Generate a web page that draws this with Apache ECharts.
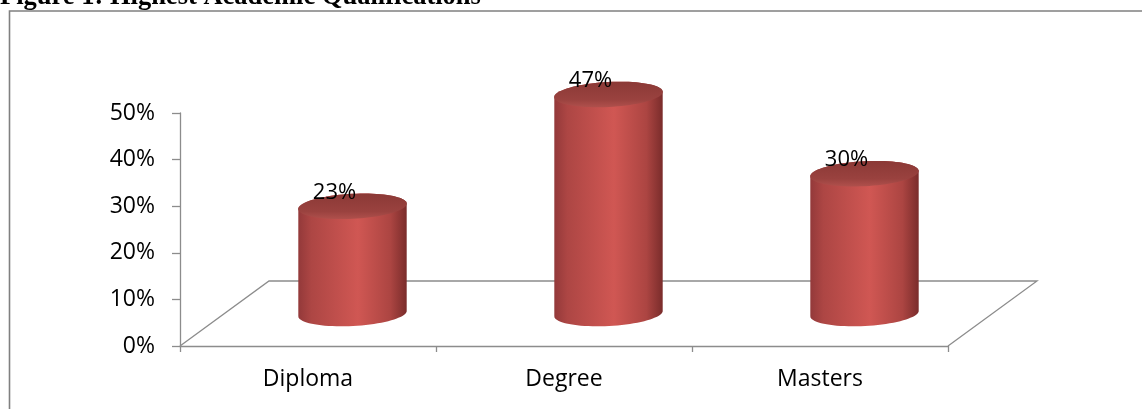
<!DOCTYPE html>
<html>
<head>
<meta charset="utf-8">
<script src="https://cdn.jsdelivr.net/npm/echarts@6/dist/echarts.min.js"></script>
<style>
html,body{margin:0;padding:0;background:#fff;}
#chart{width:1142px;height:409px;}
</style>
</head>
<body>
<div id="chart"></div>
<script>
const titleText = 'Figure 1: Highest Academic Qualifications';
const categories = ['Diploma', 'Degree', 'Masters'];
const values = [23, 47, 30];
const yTicks = [0, 10, 20, 30, 40, 50];

const DX = 89, DY = 65;       // 3D floor depth (style)
const TH = -3 * Math.PI / 180; // ellipse tilt
const LINE = '#8c8c8c';
const FONT = '"Open Sans", "Noto Sans", sans-serif';

function ell(cx, cy, rx, ry, t) {
  const c = Math.cos(TH), s = Math.sin(TH);
  const ex = rx * Math.cos(t), ey = ry * Math.sin(t);
  return [cx + ex * c - ey * s, cy + ex * s + ey * c];
}

const chart = echarts.init(document.getElementById('chart'));
chart.setOption({
  backgroundColor: '#fff',
  animation: false,
  graphic: [
    { type: 'rect', shape: { x: 9.5, y: 11, width: 1300, height: 600 },
      style: { fill: 'none', stroke: '#808080', lineWidth: 1.6 }, z: 0 },
    { type: 'text', x: 0, y: 11,
      style: { text: titleText, font: 'bold 26.5px "Liberation Serif", serif',
               fill: '#000', align: 'left', verticalAlign: 'bottom' }, z: 10 }
  ],
  grid: { left: 180, right: 194, top: 113, bottom: 63 },
  xAxis: {
    type: 'category', data: categories,
    axisLine: { show: true, lineStyle: { color: LINE, width: 1.3 } },
    axisTick: { show: true, length: 6, lineStyle: { color: LINE, width: 1.3 } },
    axisLabel: { color: '#000', fontSize: 23, fontFamily: FONT, margin: 22 },
    splitLine: { show: false }
  },
  yAxis: {
    type: 'value', min: yTicks[0], max: yTicks[yTicks.length - 1], interval: 10,
    axisLine: { show: true, lineStyle: { color: LINE, width: 1.3 } },
    axisTick: { show: true, length: 8, lineStyle: { color: LINE, width: 1.3 } },
    axisLabel: { color: '#000', fontSize: 23, fontFamily: FONT, margin: 25,
                 formatter: v => v + '%' },
    splitLine: { show: false }
  },
  series: [
    {
      type: 'custom', z: 1, silent: true, clip: false,
      data: [[0, 0]],
      renderItem: function (params, api) {
        const cs = params.coordSys;
        const x0 = cs.x, yb = cs.y + cs.height, w = cs.width;
        return {
          type: 'polyline',
          shape: { points: [[x0, yb], [x0 + DX, yb - DY], [x0 + w + DX, yb - DY], [x0 + w, yb]] },
          style: { stroke: LINE, lineWidth: 1.3, fill: 'none' }
        };
      }
    },
    {
      type: 'custom', z: 2, silent: true, clip: false,
      data: categories.map((c, i) => [i, values[i]]),
      renderItem: function (params, api) {
        const idx = api.value(0), v = api.value(1);
        const base = api.coord([idx, 0]);
        const top = api.coord([idx, v]);
        const bandW = api.size([1, 0])[0];
        const rx = bandW * 0.212, ry = 12.5;
        const cx = base[0] + DX / 2;
        const by = base[1] - DY / 2;
        const ty = top[1] - DY / 2;
        const body = [];
        const N = 40;
        for (let k = 0; k <= N; k++) body.push(ell(cx, by, rx, ry, Math.PI - Math.PI * k / N));
        for (let k = 0; k <= N; k++) body.push(ell(cx, ty, rx, ry, -Math.PI * k / N));
        const cap = [];
        for (let k = 0; k < 80; k++) cap.push(ell(cx, ty, rx, ry, 2 * Math.PI * k / 80));
        return {
          type: 'group',
          children: [
            { type: 'polygon', shape: { points: body },
              style: { fill: new echarts.graphic.LinearGradient(0, 0, 1, 0, [
                { offset: 0, color: '#93393a' },
                { offset: 0.12, color: '#ad4644' },
                { offset: 0.55, color: '#d05753' },
                { offset: 0.85, color: '#ac4542' },
                { offset: 1, color: '#7a2c2b' }
              ]) } },
            { type: 'polygon', shape: { points: cap },
              style: { fill: new echarts.graphic.LinearGradient(0, 0, 0, 1, [
                { offset: 0, color: '#8b3936' },
                { offset: 0.7, color: '#9a423f' },
                { offset: 1, color: '#b0504c' }
              ]) } },
            { type: 'text', z2: 10,
              style: { text: v + '%', x: cx - 18, y: ty - ry - 1,
                       align: 'center', verticalAlign: 'middle',
                       font: '22px ' + FONT, fill: '#000' } }
          ]
        };
      }
    }
  ]
});
</script>
</body>
</html>
